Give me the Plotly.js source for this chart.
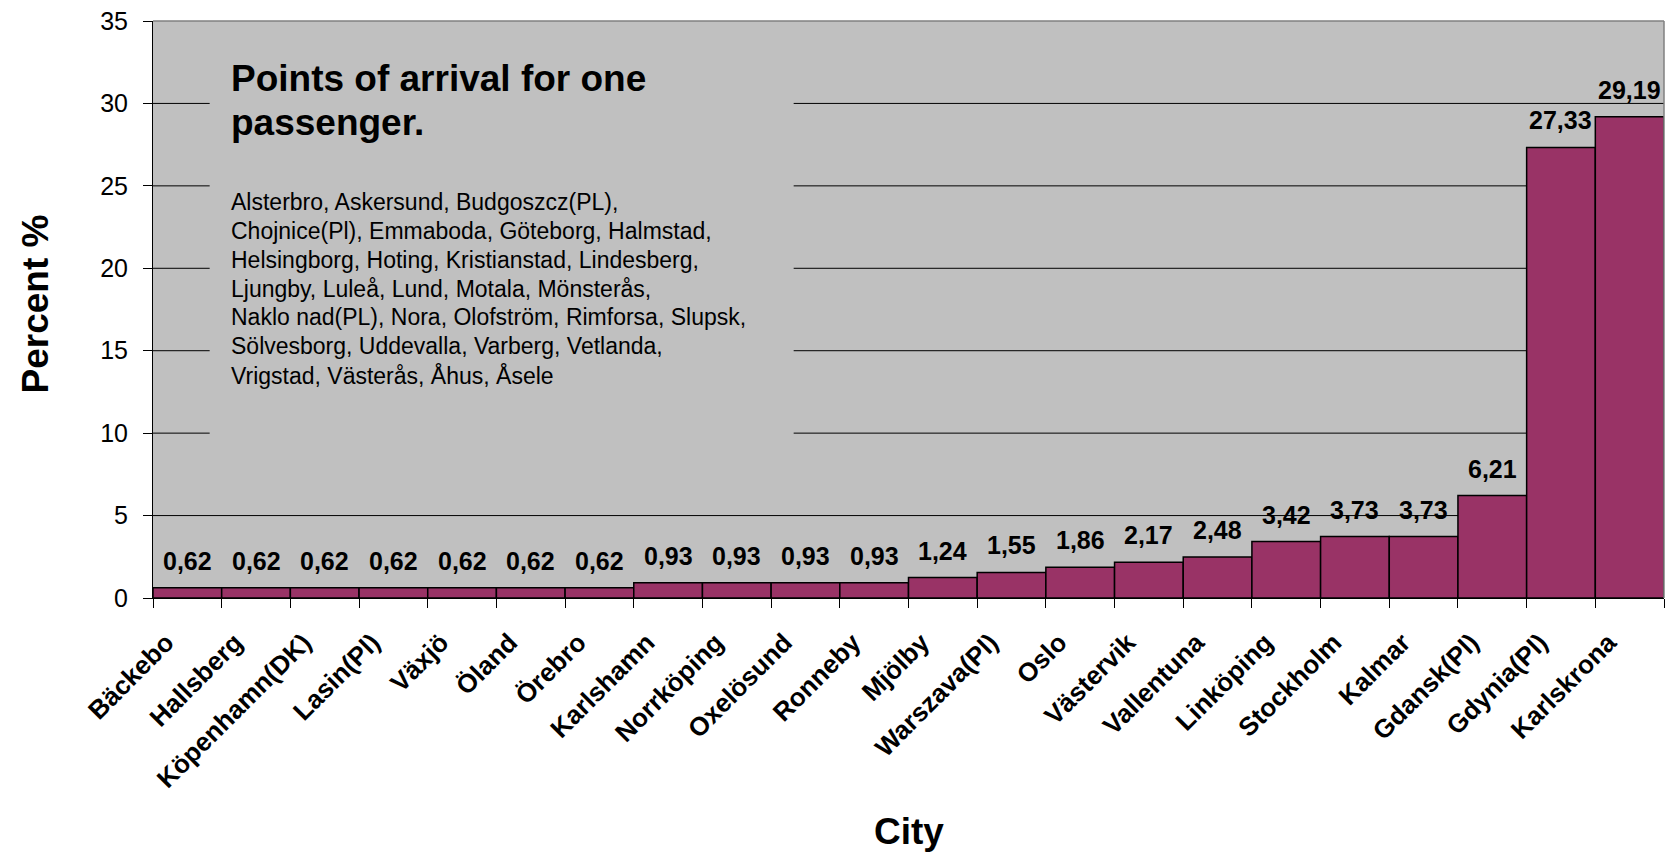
<!DOCTYPE html>
<html>
<head>
<meta charset="utf-8">
<script src="https://cdn.plot.ly/plotly-3.0.1.min.js"></script>
<style>
html,body{margin:0;padding:0;background:#ffffff;}
#chart{width:1673px;height:853px;}
</style>
</head>
<body>
<div id="chart"></div>
<script>
// ---- data ----
const cities = ["Bäckebo","Hallsberg","Köpenhamn(DK)","Lasin(Pl)","Växjö","Öland","Örebro",
  "Karlshamn","Norrköping","Oxelösund","Ronneby","Mjölby","Warszava(Pl)","Oslo","Västervik",
  "Vallentuna","Linköping","Stockholm","Kalmar","Gdansk(Pl)","Gdynia(Pl)","Karlskrona"];
const percent = [0.62,0.62,0.62,0.62,0.62,0.62,0.62,
  0.93,0.93,0.93,0.93,1.24,1.55,1.86,2.17,
  2.48,3.42,3.73,3.73,6.21,27.33,29.19];
const yTickVals = [0,5,10,15,20,25,30,35];
const chartTitleLines = ["Points of arrival for one","passenger."];
const onePassengerLines = [
  "Alsterbro, Askersund, Budgoszcz(PL),",
  "Chojnice(Pl), Emmaboda, Göteborg, Halmstad,",
  "Helsingborg, Hoting, Kristianstad, Lindesberg,",
  "Ljungby, Luleå, Lund, Motala, Mönsterås,",
  "Naklo nad(PL), Nora, Olofström, Rimforsa, Slupsk,",
  "Sölvesborg, Uddevalla, Varberg, Vetlanda,",
  "Vrigstad, Västerås, Åhus, Åsele"
];
const xTitle = "City";
const yTitle = "Percent %";

// ---- styling ----
const FONT = "'Liberation Sans', Arial, sans-serif";
const BAR_COLOR = "#993366";
const PLOT_BG = "#C0C0C0";
// text box (in x/y domain fractions) that hides the gridlines behind it
const BOX_X0 = 0.0375, BOX_X1 = 0.424, BOX_Y0 = 0.235, BOX_Y1 = 0.925;

const barTrace = {
  type: "bar",
  x: cities,
  y: percent,
  marker: {color: BAR_COLOR, line: {color: "#000000", width: 1.5}},
  hoverinfo: "x+y"
};

const valueLabels = cities.map((c, i) => ({
  x: i, y: percent[i], xref: "x", yref: "y",
  text: "<b>" + percent[i].toFixed(2).replace(".", ",") + "</b>",
  showarrow: false, xanchor: "center", yanchor: "bottom", yshift: 11,
  font: {family: FONT, size: 25, color: "#000000"}
}));

const titleAnns = chartTitleLines.map((t, i) => ({
  xref: "paper", yref: "paper", x: 0.0505, y: 0.94,
  xanchor: "left", yanchor: "top", align: "left", showarrow: false,
  yshift: -i * 44,
  text: "<b>" + t + "</b>",
  font: {family: FONT, size: 37, color: "#000000"}
}));

const bodyAnns = onePassengerLines.map((t, i) => ({
  xref: "paper", yref: "paper", x: 0.0505, y: 0.712,
  xanchor: "left", yanchor: "top", align: "left", showarrow: false,
  yshift: -i * 28.8,
  text: t,
  font: {family: FONT, size: 23, color: "#000000"}
}));

const annotations = valueLabels.concat(titleAnns, bodyAnns, [
  {
    xref: "paper", yref: "paper", x: 0.5, y: -0.405,
    xanchor: "center", yanchor: "middle", showarrow: false,
    text: "<b>" + xTitle + "</b>",
    font: {family: FONT, size: 37, color: "#000000"}
  },
  {
    xref: "paper", yref: "paper", x: -0.078, y: 0.509,
    xanchor: "center", yanchor: "middle", showarrow: false, textangle: -90,
    text: "<b>" + yTitle + "</b>",
    font: {family: FONT, size: 37, color: "#000000"}
  }
]);

// gridlines as shapes (split around the text box)
const gridShapes = [];
yTickVals.forEach(v => {
  if (v === 0 || v === 35) return;
  const frac = v / 35;
  const segs = (frac > BOX_Y0 && frac < BOX_Y1) ? [[0, BOX_X0], [BOX_X1, 1]] : [[0, 1]];
  segs.forEach(s => gridShapes.push({
    type: "line", layer: "below", xref: "x domain", yref: "y",
    x0: s[0], x1: s[1], y0: v, y1: v,
    line: {color: "#000000", width: 1}
  }));
});

const layout = {
  width: 1673, height: 853,
  margin: {l: 153, r: 9, t: 21, b: 255, pad: 0},
  paper_bgcolor: "#ffffff",
  plot_bgcolor: PLOT_BG,
  bargap: 0,
  showlegend: false,
  font: {family: FONT, color: "#000000"},
  xaxis: {
    type: "category",
    tickson: "boundaries",
    ticks: "outside", ticklen: 9, tickwidth: 1, tickcolor: "#000000",
    showgrid: false,
    showline: true, linecolor: "#000000", linewidth: 1,
    tickangle: -45,
    ticklabelshift: -21,
    ticklabelstandoff: 18,
    tickfont: {family: FONT, size: 26, color: "#000000", weight: "bold"},
    automargin: false,
    fixedrange: true
  },
  yaxis: {
    range: [0, 35],
    tickvals: yTickVals,
    ticktext: yTickVals.map(String),
    ticks: "outside", ticklen: 9, tickwidth: 1, tickcolor: "#000000",
    ticklabelstandoff: 10,
    showgrid: false,
    zeroline: false,
    showline: true, linecolor: "#000000", linewidth: 1,
    tickfont: {family: FONT, size: 25, color: "#000000"},
    automargin: false,
    fixedrange: true
  },
  shapes: gridShapes.concat([
    {
      type: "line", layer: "above", xref: "paper", yref: "paper",
      x0: 0, x1: 1, y0: 1, y1: 1, line: {color: "#808080", width: 1.5}
    },
    {
      type: "line", layer: "above", xref: "paper", yref: "paper",
      x0: 1, x1: 1, y0: 0, y1: 1, line: {color: "#808080", width: 1.5}
    }
  ]),
  annotations: annotations
};

Plotly.newPlot("chart", [barTrace], layout, {displayModeBar: false, staticPlot: true});
</script>
</body>
</html>
